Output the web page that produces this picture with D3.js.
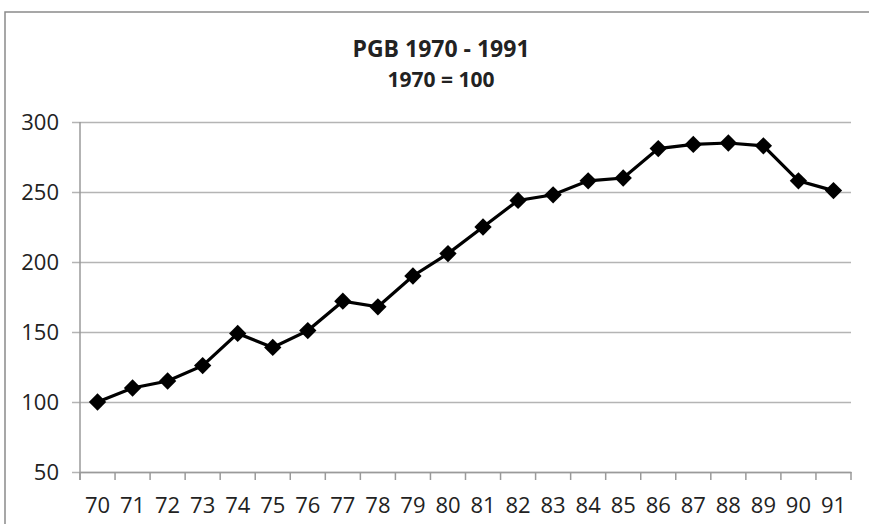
<!DOCTYPE html>
<html>
<head>
<meta charset="utf-8">
<script src="https://cdn.jsdelivr.net/npm/d3@7"></script>
<style>
  body { margin: 0; background: #fff; }
  text { font-family: "Open Sans", sans-serif; fill: #222; }
</style>
</head>
<body>
<svg width="869" height="524"></svg>
<script>
const years = ["70", "71", "72", "73", "74", "75", "76", "77", "78", "79", "80",
               "81", "82", "83", "84", "85", "86", "87", "88", "89", "90", "91"];
const pgb = [100, 110, 115, 126, 149, 139, 151, 172, 168, 190, 206,
             225, 244, 248, 258, 260, 281, 284, 285, 283, 258, 251];
const yTicks = [50, 100, 150, 200, 250, 300];

const svg = d3.select("svg");
const plotLeft = 80, plotRight = 851, plotTop = 122, plotBottom = 472;

// chart frame, runs off the right and bottom edge like the original
svg.append("rect")
    .attr("x", 5).attr("y", 12)
    .attr("width", 900).attr("height", 560)
    .attr("fill", "none")
    .attr("stroke", "#8a8a8a")
    .attr("stroke-width", 1.5);

svg.append("text")
    .attr("x", 441).attr("y", 57)
    .attr("text-anchor", "middle")
    .style("font-size", "23px")
    .style("font-weight", "bold")
    .text("PGB 1970 - 1991");

svg.append("text")
    .attr("x", 441).attr("y", 87)
    .attr("text-anchor", "middle")
    .style("font-size", "21px")
    .style("font-weight", "bold")
    .text("1970 = 100");

const x = d3.scaleBand().domain(years).range([plotLeft, plotRight]);
const y = d3.scaleLinear().domain([50, 300]).range([plotBottom, plotTop]);

// gridlines + left ticks
const yAxis = svg.append("g")
    .attr("transform", `translate(${plotLeft},0)`)
    .call(d3.axisLeft(y).tickValues(yTicks)
        .tickSizeInner(-(plotRight - plotLeft)).tickSizeOuter(0).tickPadding(21));
yAxis.select(".domain").remove();
yAxis.selectAll(".tick line")
    .attr("x1", -8)
    .attr("stroke", "#b4b4b4")
    .attr("stroke-width", 1.5);
yAxis.selectAll(".tick text")
    .style("font-size", "22px")
    .attr("fill", "#222");

svg.append("line")
    .attr("x1", plotLeft).attr("x2", plotLeft)
    .attr("y1", plotTop).attr("y2", plotBottom + 8)
    .attr("stroke", "#9a9a9a").attr("stroke-width", 1.5);

// x axis: labels centred, ticks on category boundaries
const xAxis = svg.append("g")
    .attr("transform", `translate(0,${plotBottom})`)
    .call(d3.axisBottom(x).tickSize(0).tickPadding(25));
xAxis.select(".domain")
    .attr("stroke", "#9a9a9a").attr("stroke-width", 1.5);
xAxis.selectAll(".tick text")
    .style("font-size", "22px")
    .attr("fill", "#222");

svg.append("g")
    .selectAll("line")
    .data(years.map(d => x(d)).concat([plotRight]))
    .join("line")
    .attr("x1", d => d).attr("x2", d => d)
    .attr("y1", plotBottom).attr("y2", plotBottom + 8)
    .attr("stroke", "#9a9a9a").attr("stroke-width", 1.5);

const pts = years.map((d, i) => ({ year: d, value: pgb[i] }));
const cx = d => x(d.year) + x.bandwidth() / 2;

svg.append("path")
    .datum(pts)
    .attr("fill", "none")
    .attr("stroke", "#000")
    .attr("stroke-width", 3.2)
    .attr("d", d3.line().x(cx).y(d => y(d.value)));

svg.selectAll(".marker")
    .data(pts)
    .join("path")
    .attr("class", "marker")
    .attr("d", d3.symbol(d3.symbolSquare, 150))
    .attr("transform", d => `translate(${cx(d)},${y(d.value)}) rotate(45)`)
    .attr("fill", "#000");
</script>
</body>
</html>
